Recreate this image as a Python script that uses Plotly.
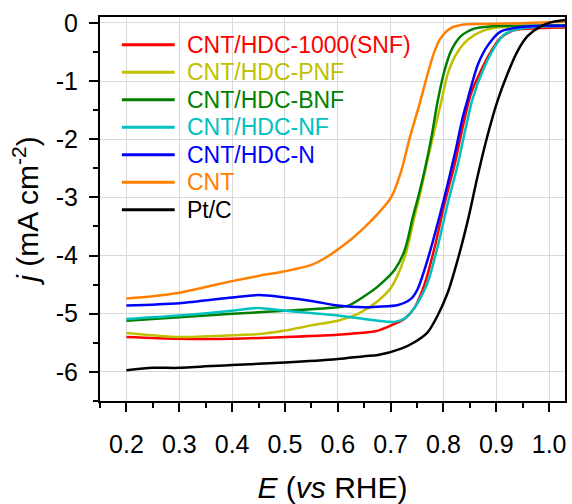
import plotly.graph_objects as go

# ---- data ----
E_snf = [0.2, 0.3, 0.4, 0.5, 0.6, 0.657, 0.676, 0.701, 0.726, 0.745, 0.764, 0.783, 0.802, 0.821, 0.836, 0.852, 0.871, 0.890, 0.908, 0.933, 0.984, 1.03]
j_snf = [-5.40, -5.43, -5.43, -5.40, -5.36, -5.32, -5.29, -5.20, -5.09, -4.90, -4.50, -3.87, -3.11, -2.44, -1.81, -1.22, -0.82, -0.49, -0.26, -0.13, -0.09, -0.08]

E_pnf = [0.2, 0.25, 0.3, 0.4, 0.45, 0.5, 0.55, 0.6, 0.639, 0.676, 0.701, 0.727, 0.745, 0.758, 0.770, 0.783, 0.795, 0.808, 0.824, 0.846, 0.871, 0.902, 0.95, 1.03]
j_pnf = [-5.33, -5.37, -5.40, -5.37, -5.35, -5.29, -5.20, -5.12, -5.00, -4.78, -4.55, -4.02, -3.34, -2.85, -2.35, -1.85, -1.39, -0.88, -0.54, -0.29, -0.15, -0.08, -0.06, -0.05]

E_bnf = [0.2, 0.3, 0.4, 0.5, 0.6, 0.62, 0.65, 0.676, 0.708, 0.727, 0.742, 0.752, 0.764, 0.777, 0.789, 0.802, 0.814, 0.833, 0.858, 0.890, 0.95, 1.03]
j_bnf = [-5.12, -5.06, -5.00, -4.95, -4.89, -4.86, -4.70, -4.53, -4.24, -3.90, -3.34, -3.00, -2.55, -1.98, -1.35, -0.82, -0.49, -0.23, -0.10, -0.06, -0.05, -0.04]

E_nf = [0.2, 0.3, 0.4, 0.45, 0.5, 0.6, 0.65, 0.676, 0.708, 0.730, 0.745, 0.757, 0.770, 0.789, 0.808, 0.827, 0.842, 0.855, 0.877, 0.896, 0.915, 0.946, 1.0, 1.03]
j_nf = [-5.09, -5.03, -4.95, -4.90, -4.95, -5.03, -5.09, -5.12, -5.14, -5.06, -4.90, -4.72, -4.47, -3.85, -3.11, -2.44, -1.81, -1.31, -0.77, -0.43, -0.20, -0.10, -0.06, -0.06]

E_n = [0.2, 0.3, 0.4, 0.45, 0.5, 0.55, 0.6, 0.65, 0.676, 0.714, 0.739, 0.751, 0.770, 0.789, 0.808, 0.824, 0.836, 0.846, 0.865, 0.883, 0.908, 0.95, 1.0, 1.03]
j_n = [-4.86, -4.82, -4.72, -4.68, -4.72, -4.78, -4.86, -4.89, -4.88, -4.85, -4.74, -4.58, -4.07, -3.45, -2.77, -2.15, -1.64, -1.31, -0.72, -0.40, -0.15, -0.07, -0.05, -0.05]

E_cnt = [0.2, 0.25, 0.3, 0.35, 0.4, 0.45, 0.5, 0.55, 0.58, 0.62, 0.65, 0.676, 0.701, 0.720, 0.736, 0.755, 0.770, 0.783, 0.795, 0.814, 0.839, 0.87, 0.92, 0.97, 1.03]
j_cnt = [-4.74, -4.70, -4.64, -4.54, -4.44, -4.35, -4.27, -4.16, -4.02, -3.76, -3.52, -3.28, -3.00, -2.55, -1.98, -1.39, -0.88, -0.49, -0.26, -0.09, -0.03, -0.02, -0.01, 0.00, 0.02]

E_pt = [0.2, 0.25, 0.3, 0.4, 0.5, 0.6, 0.65, 0.676, 0.720, 0.745, 0.770, 0.789, 0.808, 0.827, 0.846, 0.865, 0.883, 0.902, 0.921, 0.940, 0.959, 0.984, 1.009, 1.03]
j_pt = [-5.97, -5.93, -5.93, -5.88, -5.84, -5.78, -5.73, -5.71, -5.60, -5.49, -5.32, -5.03, -4.64, -4.07, -3.40, -2.62, -1.95, -1.35, -0.88, -0.49, -0.23, -0.06, 0.02, 0.05]

names = ["CNT/HDC-1000(SNF)", "CNT/HDC-PNF", "CNT/HDC-BNF", "CNT/HDC-NF", "CNT/HDC-N", "CNT", "Pt/C"]
colors = ["#ff0000", "#c0c000", "#008000", "#00c0c0", "#0000ff", "#ff8000", "#000000"]
series = [(E_snf, j_snf), (E_pnf, j_pnf), (E_bnf, j_bnf), (E_nf, j_nf), (E_n, j_n), (E_cnt, j_cnt), (E_pt, j_pt)]

x_ticks = [0.2, 0.3, 0.4, 0.5, 0.6, 0.7, 0.8, 0.9, 1.0]
x_labels = ["0.2", "0.3", "0.4", "0.5", "0.6", "0.7", "0.8", "0.9", "1.0"]
y_ticks = [0, -1, -2, -3, -4, -5, -6]
y_labels = ["0", "-1", "-2", "-3", "-4", "-5", "-6"]

FONT = "Liberation Sans, Arial, sans-serif"
W, H = 572, 504
ML, MR, MT, MB = 100, 5, 17, 99
PW, PH = W - ML - MR, H - MT - MB

fig = go.Figure()
for (xs, ys), nm, c in zip(series, names, colors):
    fig.add_trace(go.Scatter(
        x=xs, y=ys, mode="lines", name=nm, showlegend=False,
        line=dict(color=c, width=2.5, shape="spline", smoothing=0.8),
    ))

# legend drawn inside the plot (line sample + coloured label)
leg_x0, leg_x1, leg_tx, leg_y0, leg_dy = 122, 175, 185, 45, 27.8
for i, (nm, c) in enumerate(zip(names, colors)):
    py = leg_y0 + i * leg_dy
    yp = 1 - (py - MT) / PH
    fig.add_shape(type="line", xref="paper", yref="paper",
                  x0=(leg_x0 - ML) / PW, x1=(leg_x1 - ML) / PW, y0=yp, y1=yp,
                  line=dict(color=c, width=3))
    fig.add_annotation(xref="paper", yref="paper", x=(leg_tx - ML) / PW, y=yp,
                       xanchor="left", yanchor="middle", text=nm, showarrow=False,
                       font=dict(family=FONT, size=23, color=c))

axis_common = dict(
    showline=True, linecolor="black", linewidth=2, mirror=True,
    ticks="outside", ticklen=9, tickwidth=2, tickcolor="black",
    showgrid=True, gridcolor="#d9d9d9", gridwidth=1, zeroline=False,
    tickfont=dict(family=FONT, size=25, color="black"),
)

fig.update_xaxes(
    range=[0.15, 1.03], tickvals=x_ticks, ticktext=x_labels, ticklabelstandoff=11,
    minor=dict(dtick=0.05, tick0=0.15, ticks="outside", ticklen=5, tickwidth=2, tickcolor="black", showgrid=False),
    title=dict(text="<i>E</i> (<i>vs</i> RHE)", font=dict(family=FONT, size=30, color="black"), standoff=20),
    **axis_common,
)
fig.update_yaxes(
    range=[-6.5, 0.1], tickvals=y_ticks, ticktext=y_labels, ticklabelstandoff=6,
    minor=dict(dtick=0.5, tick0=0, ticks="outside", ticklen=5, tickwidth=2, tickcolor="black", showgrid=False),
    title=dict(text="<i>j</i> (mA cm<sup>-2</sup>)", font=dict(family=FONT, size=30, color="black"), standoff=8),
    **axis_common,
)

fig.update_layout(
    width=W, height=H,
    margin=dict(l=ML, r=MR, t=MT, b=MB),
    paper_bgcolor="white", plot_bgcolor="white",
    showlegend=False,
)

fig.write_html("out.html")
